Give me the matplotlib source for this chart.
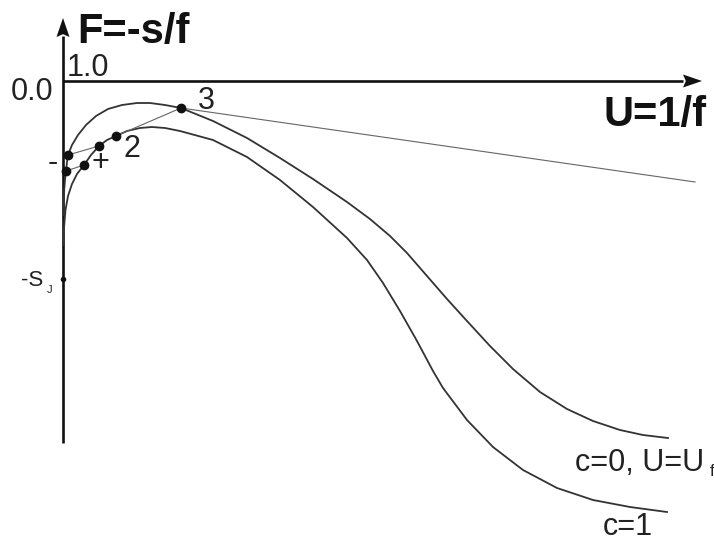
import matplotlib
matplotlib.use("Agg")
import matplotlib.pyplot as plt

# upper curve, c=0 (U, F)
U_C0 = [0.003, 0.012, 0.02, 0.03, 0.04, 0.05, 0.09, 0.15, 0.23, 0.33, 0.45,
        0.59, 0.74, 0.87, 1.02, 1.18, 1.50, 1.84, 2.17, 2.50, 2.84, 3.07,
        3.27, 3.44, 3.64, 3.84, 4.04, 4.27, 4.50, 4.77, 5.04, 5.30, 5.57,
        5.80, 6.05]
F_C0 = [-1.34, -1.09, -0.99, -0.90, -0.81, -0.74, -0.64, -0.54, -0.44, -0.35,
        -0.28, -0.24, -0.22, -0.22, -0.24, -0.27, -0.40, -0.57, -0.77, -0.98,
        -1.21, -1.38, -1.55, -1.72, -1.95, -2.18, -2.40, -2.65, -2.88, -3.11,
        -3.28, -3.40, -3.49, -3.54, -3.57]

# lower curve, c=1
U_C1 = [0.003, 0.01, 0.025, 0.05, 0.09, 0.14, 0.21, 0.28, 0.36, 0.44, 0.53,
        0.64, 0.77, 0.89, 1.02, 1.17, 1.50, 1.84, 2.17, 2.50, 2.84, 3.04,
        3.20, 3.37, 3.54, 3.70, 3.80, 4.04, 4.30, 4.60, 4.94, 5.30, 5.67,
        6.04]
F_C1 = [-1.64, -1.47, -1.29, -1.15, -1.03, -0.93, -0.84, -0.74, -0.65, -0.59,
        -0.55, -0.50, -0.47, -0.46, -0.47, -0.50, -0.59, -0.76, -0.99, -1.26,
        -1.57, -1.79, -2.02, -2.30, -2.60, -2.90, -3.07, -3.39, -3.66, -3.89,
        -4.07, -4.19, -4.26, -4.31]

# marked points
PT_U = [0.03, 0.05, 0.21, 0.36, 0.53, 1.18]
PT_F = [-0.90, -0.74, -0.84, -0.65, -0.55, -0.27]

# thin chords between marked points (index pairs), plus the ray from point 3
CHORDS = [(0, 2), (1, 3), (4, 5)]
RAY_END = (6.32, -1.01)

S_J = -1.98

fig = plt.figure(figsize=(7.14, 5.43), dpi=100)
ax = fig.add_axes([0, 0, 1, 1])
ax.set_xlim(-0.63, 6.51)
ax.set_ylim(-4.62, 0.81)
ax.axis("off")

plt.rcParams["font.family"] = ["Liberation Sans", "DejaVu Sans"]

# axes with arrow heads
ax.plot([0, 0], [-3.62, 0.45], color="#111111", lw=1.9, solid_capstyle="butt")
ax.plot([0, 6.2], [0, 0], color="#111111", lw=1.9, solid_capstyle="butt")
ax.arrow(0, 0.40, 0, 0.23, width=0.0, head_width=0.13, head_length=0.19,
         length_includes_head=True, overhang=0.15, color="#111111", lw=0)
ax.arrow(6.15, 0, 0.24, 0, width=0.0, head_width=0.13, head_length=0.19,
         length_includes_head=True, overhang=0.15, color="#111111", lw=0)

ax.plot(U_C0, F_C0, color="#333333", lw=1.3, solid_joinstyle="round")
ax.plot(U_C1, F_C1, color="#333333", lw=1.3, solid_joinstyle="round")

for i, j in CHORDS:
    ax.plot([PT_U[i], PT_U[j]], [PT_F[i], PT_F[j]], color="#666666", lw=0.8)
ax.plot([PT_U[5], RAY_END[0]], [PT_F[5], RAY_END[1]], color="#666666", lw=0.8)

ax.plot(PT_U, PT_F, "o", color="#111111", ms=6, zorder=5)
ax.plot([0], [S_J], "o", color="#111111", ms=3, zorder=5)

bold = dict(fontsize=30, fontweight="bold", color="#111111")
ax.text(0.14, 0.38, "F=-s/f", ha="left", va="baseline", **bold)
ax.text(5.40, -0.45, "U=1/f", ha="left", va="baseline", **bold)

reg = dict(fontsize=22, color="#222222")
ax.text(-0.31, -0.11, "0.0", ha="center", va="center", **reg)
ax.text(0.25, 0.13, "1.0", ha="center", va="center", **reg)
ax.text(1.43, -0.20, "3", ha="center", va="center", **reg)
ax.text(0.69, -0.68, "2", ha="center", va="center", **reg)
ax.text(0.37, -0.82, "+", ha="center", va="center", **reg)
ax.text(-0.10, -0.82, "-", ha="center", va="center", **reg)
ax.text(-0.305, S_J - 0.01, "-S", ha="center", va="center", fontsize=16,
        color="#222222")
ax.text(-0.13, S_J - 0.11, "J", ha="center", va="center", fontsize=8,
        color="#222222")
ax.text(5.12, -3.82, "c=0, U=U", ha="left", va="center", **reg)
ax.text(6.47, -3.90, "f", ha="left", va="center", fontsize=12,
        color="#222222")
ax.text(5.65, -4.46, "c=1", ha="center", va="center", **reg)

fig.savefig("out.png", dpi=100, facecolor="white")
